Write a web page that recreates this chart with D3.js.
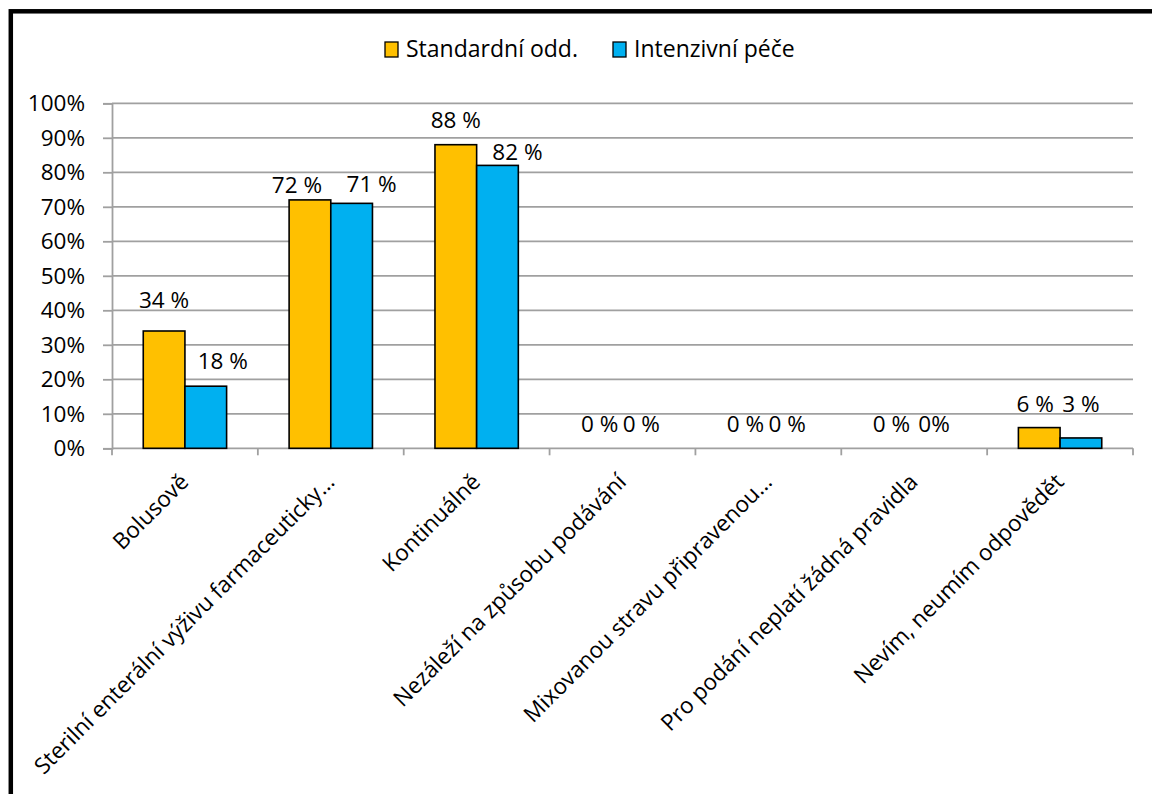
<!DOCTYPE html>
<html>
<head>
<meta charset="utf-8">
<script src="https://cdn.jsdelivr.net/npm/d3@7"></script>
<style>
  body { margin: 0; background: #fff; }
  svg { display: block; }
  text { font-family: "Open Sans", sans-serif; fill: #000; }
</style>
</head>
<body>
<div id="chart"></div>
<script>
// data
const categories = [
  "Bolusově",
  "Sterilní enterální výživu farmaceuticky…",
  "Kontinuálně",
  "Nezáleží na způsobu podávání",
  "Mixovanou stravu připravenou…",
  "Pro podání neplatí žádná pravidla",
  "Nevím, neumím odpovědět"
];
const seriesNames = ["Standardní odd.", "Intenzivní péče"];
const seriesColors = ["#FFC000", "#00B0F0"];
const standardni = [34, 72, 88, 0, 0, 0, 6];
const intenzivni = [18, 71, 82, 0, 0, 0, 3];
const standardniLabels = ["34 %", "72 %", "88 %", "0 %", "0 %", "0 %", "6 %"];
const intenzivniLabels = ["18 %", "71 %", "82 %", "0 %", "0 %", "0%", "3 %"];
const yTicks = [0, 10, 20, 30, 40, 50, 60, 70, 80, 90, 100];

// label nudges (the labels were hand-moved in the original), [dx, lift]
const labelNudge = [
  [[0, 23], [17, 17]],
  [[-13, 7], [20, 11]],
  [[0, 17], [20, 5]],
  [[-2, 16], [-2, 16]],
  [[-2, 16], [-2, 16]],
  [[-2, 16], [-1, 16]],
  [[-4, 16], [0, 26]]
];

const width = 1152, height = 794;
const plot = { left: 112, right: 1133, top: 103.3, bottom: 448.3 };
const fontSize = 22.5;

const svg = d3.select("#chart").append("svg")
  .attr("width", width)
  .attr("height", height);

svg.append("rect")
  .attr("width", width).attr("height", height)
  .attr("fill", "#fff");

// outer frame (cut off on the right and bottom)
svg.append("rect")
  .attr("x", 10.8).attr("y", 11.3)
  .attr("width", 1200).attr("height", 900)
  .attr("fill", "none")
  .attr("stroke", "#000")
  .attr("stroke-width", 4.5);

const x0 = d3.scaleBand()
  .domain(categories)
  .range([plot.left, plot.right]);

const groupW = x0.bandwidth() / 1.75;   // gap width 75%
const x1 = d3.scaleBand()
  .domain(seriesNames)
  .range([(x0.bandwidth() - groupW) / 2, (x0.bandwidth() + groupW) / 2]);

const y = d3.scaleLinear()
  .domain([0, 100])
  .range([plot.bottom, plot.top]);

// gridlines
svg.append("g")
  .selectAll("line")
  .data(yTicks.filter(d => d > 0))
  .enter()
  .append("line")
  .attr("x1", plot.left).attr("x2", plot.right)
  .attr("y1", d => y(d)).attr("y2", d => y(d))
  .attr("stroke", "#a0a0a0")
  .attr("stroke-width", 1.8);

// y axis
const yAxis = svg.append("g")
  .attr("transform", "translate(" + plot.left + ",0)")
  .call(d3.axisLeft(y).tickValues(yTicks).tickFormat(d => d + "%").tickSize(9).tickPadding(18));
yAxis.select(".domain").attr("stroke", "#a0a0a0").attr("stroke-width", 1.8);
yAxis.selectAll(".tick line").attr("stroke", "#a0a0a0").attr("stroke-width", 1.8);
yAxis.selectAll(".tick text")
  .style("font-family", "Open Sans")
  .style("font-size", fontSize + "px")
  .attr("fill", "#000");

// x axis
const xAxis = svg.append("g")
  .attr("transform", "translate(0," + plot.bottom + ")");
xAxis.append("line")
  .attr("x1", plot.left).attr("x2", plot.right)
  .attr("stroke", "#a0a0a0").attr("stroke-width", 1.8);
const xEdges = categories.map(c => x0(c)).concat([plot.right]);
xAxis.selectAll(".xtick")
  .data(xEdges)
  .enter()
  .append("line")
  .attr("x1", d => d).attr("x2", d => d)
  .attr("y1", 0).attr("y2", 7)
  .attr("stroke", "#a0a0a0").attr("stroke-width", 1.8);

xAxis.selectAll(".xlabel")
  .data(categories)
  .enter()
  .append("text")
  .attr("transform", d => "translate(" + (x0(d) + x0.bandwidth() / 2 + 5) + ",35) rotate(-45)")
  .attr("text-anchor", "end")
  .style("font-size", fontSize + "px")
  .text(d => d);

// bars
const rows = categories.map((c, i) => ({
  cat: c,
  i: i,
  vals: [
    { s: seriesNames[0], v: standardni[i], label: standardniLabels[i], k: 0 },
    { s: seriesNames[1], v: intenzivni[i], label: intenzivniLabels[i], k: 1 }
  ]
}));

const groups = svg.append("g")
  .selectAll("g")
  .data(rows)
  .enter()
  .append("g")
  .attr("transform", d => "translate(" + x0(d.cat) + ",0)");

groups.selectAll("rect")
  .data(d => d.vals.filter(p => p.v > 0))
  .enter()
  .append("rect")
  .attr("x", d => x1(d.s))
  .attr("y", d => y(d.v))
  .attr("width", x1.bandwidth())
  .attr("height", d => y(0) - y(d.v))
  .attr("fill", d => seriesColors[d.k])
  .attr("stroke", "#000")
  .attr("stroke-width", 1.6);

groups.selectAll(".vlabel")
  .data(d => d.vals.map(p => Object.assign({ i: d.i }, p)))
  .enter()
  .append("text")
  .attr("x", d => x1(d.s) + x1.bandwidth() / 2 + labelNudge[d.i][d.k][0])
  .attr("y", d => y(d.v) - labelNudge[d.i][d.k][1])
  .attr("text-anchor", "middle")
  .style("font-size", fontSize + "px")
  .text(d => d.label);

// legend
const legend = svg.append("g");
const legendX = [385, 613];
seriesNames.forEach((name, k) => {
  legend.append("rect")
    .attr("x", legendX[k]).attr("y", 42)
    .attr("width", 13).attr("height", 15)
    .attr("fill", seriesColors[k])
    .attr("stroke", "#000")
    .attr("stroke-width", 1.3);
  legend.append("text")
    .attr("x", legendX[k] + 21).attr("y", 57)
    .style("font-size", "23px")
    .text(name);
});
</script>
</body>
</html>
